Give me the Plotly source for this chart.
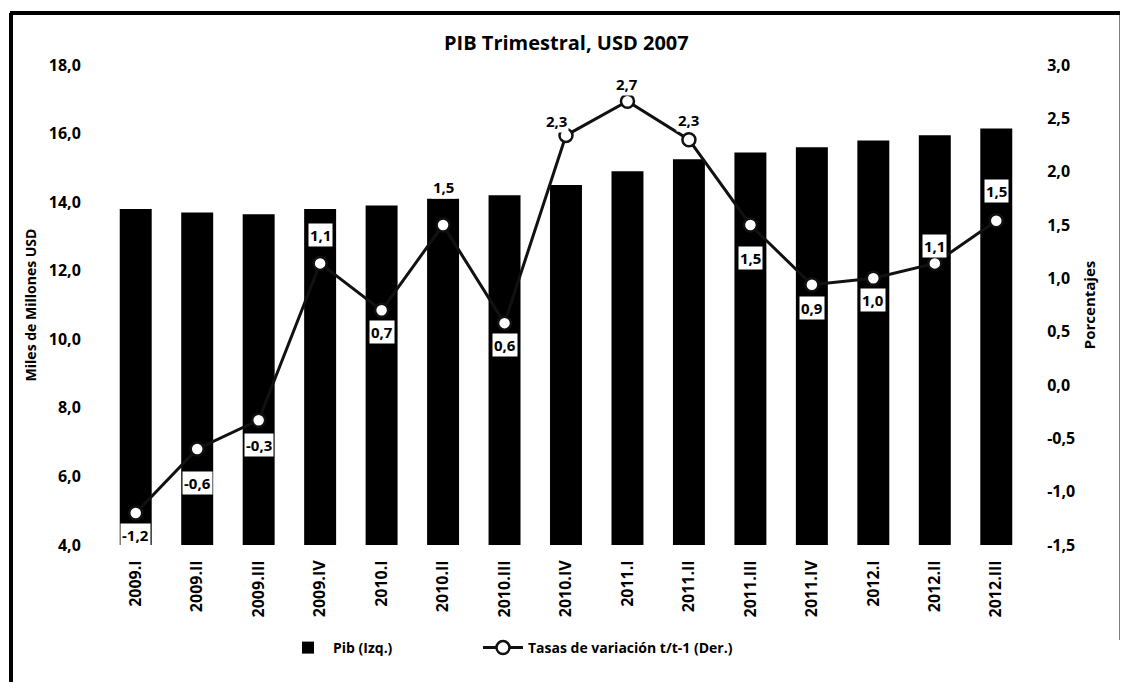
import plotly.graph_objects as go

quarters = ["2009.I", "2009.II", "2009.III", "2009.IV", "2010.I", "2010.II", "2010.III",
            "2010.IV", "2011.I", "2011.II", "2011.III", "2011.IV", "2012.I", "2012.II", "2012.III"]
pib = [13.8, 13.7, 13.65, 13.8, 13.9, 14.1, 14.2, 14.5, 14.9, 15.25, 15.45, 15.6, 15.8, 15.95, 16.15]
tasas = [-1.2, -0.6, -0.33, 1.14, 0.7, 1.5, 0.58, 2.34, 2.66, 2.3, 1.5, 0.94, 1.0, 1.14, 1.54]

left_ticks = [4, 6, 8, 10, 12, 14, 16, 18]
right_ticks = [-1.5, -1.0, -0.5, 0.0, 0.5, 1.0, 1.5, 2.0, 2.5, 3.0]

# label placement (styling): vertical pixel shift of each point label, horizontal shift
label_dy = [-22, -34, -25, 28, -22, 38, -22, 14, 17, 20, -33, -23, -22, 17, 30]
label_dx = [0, 0, 0, 0, 0, 0, 0, -10, 0, 0, 0, 0, 0, 0, 0]

def fmt(v):
    return f"{v:.1f}".replace(".", ",")

FONT = "Open Sans"
OFF = 8  # page body margin
W, H = 1128 - OFF, 689 - OFF
# plot area in screen pixels: x 105..1027, y 65..545
L = 105 - OFF
T = 65 - OFF
R = W - (1027 - OFF)
B = H - (545 - OFF)
PW, PH = W - L - R, H - T - B

def px(xs):
    return (xs - OFF - L) / PW

def py(ys):
    return (H - B - (ys - OFF)) / PH

fig = go.Figure()
fig.add_trace(go.Bar(
    x=quarters, y=pib, name="Pib (Izq.)",
    marker=dict(color="#000000", line=dict(width=0)),
    yaxis="y", legend="legend",
))
fig.add_trace(go.Scatter(
    x=quarters, y=tasas, name="Tasas de variación t/t-1 (Der.)",
    mode="lines+markers",
    line=dict(color="#111111", width=3),
    marker=dict(symbol="circle", size=13, color="white", line=dict(color="#111111", width=2.5)),
    yaxis="y2", cliponaxis=False, legend="legend2",
))

annotations = []
for q, v, dy, dx in zip(quarters, tasas, label_dy, label_dx):
    annotations.append(dict(
        x=q, y=v, xref="x", yref="y2", text=fmt(v), showarrow=False,
        yshift=dy, xshift=dx,
        font=dict(family=FONT, size=15, color="black", weight="bold"),
        bgcolor="white", borderpad=1,
    ))

annotations.append(dict(
    text="PIB Trimestral, USD 2007", x=0.5, y=1.0, xref="paper", yref="paper",
    yanchor="middle", yshift=65 - 42, showarrow=False,
    font=dict(family=FONT, size=20, color="black", weight="bold"),
))

tickfont = dict(family=FONT, size=16, color="black", weight="bold")
legfont = dict(family=FONT, size=14, color="black", weight="bold")

fig.update_layout(
    width=W, height=H,
    margin=dict(l=L, r=R, t=T, b=B, autoexpand=False),
    paper_bgcolor="white", plot_bgcolor="white",
    bargap=0.48,
    showlegend=True,
    legend=dict(orientation="h", x=px(283), xanchor="left", y=py(648), yanchor="middle",
                font=legfont, itemwidth=40),
    legend2=dict(orientation="h", x=px(478), xanchor="left", y=py(648), yanchor="middle",
                 font=legfont, itemwidth=40),
    font=dict(family=FONT, size=12, color="black"),
    xaxis=dict(range=[-0.5, len(quarters) - 0.5], tickangle=-90, showgrid=False, showline=False,
               ticks="outside", ticklen=8, tickcolor="rgba(0,0,0,0)", automargin=False,
               tickfont=tickfont),
    yaxis=dict(range=[4, 18], tickvals=left_ticks, ticktext=[fmt(t) for t in left_ticks],
               showgrid=False, zeroline=False, showline=False, automargin=False,
               ticks="outside", ticklen=20, tickcolor="rgba(0,0,0,0)",
               title=dict(text="Miles de Millones USD", font=dict(family=FONT, size=14, weight="bold"), standoff=8),
               tickfont=tickfont),
    yaxis2=dict(range=[-1.5, 3.0], tickvals=right_ticks, ticktext=[fmt(t) for t in right_ticks],
                overlaying="y", side="right", showgrid=False, zeroline=False, showline=False,
                automargin=False, ticks="outside", ticklen=16, tickcolor="rgba(0,0,0,0)",
                title=dict(text="Porcentajes", font=dict(family=FONT, size=15, weight="bold"), standoff=10),
                tickfont=tickfont),
    annotations=annotations,
    shapes=[
        dict(type="line", xref="paper", yref="paper", x0=px(10), x1=px(1128), y0=py(13), y1=py(13),
             line=dict(color="black", width=4)),
        dict(type="line", xref="paper", yref="paper", x0=px(11), x1=px(11), y0=py(13), y1=py(682),
             line=dict(color="black", width=4)),
        dict(type="line", xref="paper", yref="paper", x0=px(1121), x1=px(1121), y0=py(13), y1=py(640),
             line=dict(color="black", width=3)),
    ],
)

fig.write_html("out.html")
